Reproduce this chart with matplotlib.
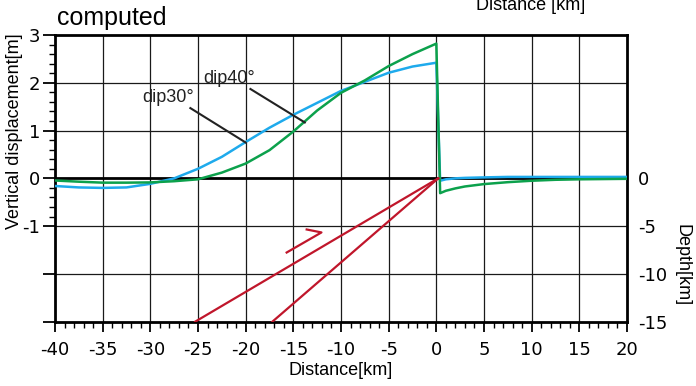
import numpy as np
import matplotlib
matplotlib.use('Agg')
import matplotlib.pyplot as plt
from matplotlib.ticker import FixedLocator

plt.rcParams['font.family'] = ['Liberation Sans', 'DejaVu Sans']

# distance [km] and vertical displacement [m]
dist = [-40, -37.5, -35, -32.5, -30, -27.5, -25, -22.5, -20, -17.5, -15, -12.5,
        -10, -7.5, -5, -2.5, 0, 0.4, 1, 2, 3, 5, 7.5, 10, 12.5, 15, 20]
dip30 = [-0.16, -0.19, -0.2, -0.19, -0.115, 0.0, 0.2, 0.45, 0.76, 1.06, 1.33, 1.58,
         1.83, 2.02, 2.21, 2.34, 2.42, -0.05, -0.02, 0.0, 0.01, 0.02, 0.03, 0.03, 0.03, 0.03, 0.03]
dip40 = [-0.045, -0.07, -0.09, -0.09, -0.085, -0.06, -0.02, 0.12, 0.31, 0.59, 0.98, 1.42,
         1.79, 2.05, 2.35, 2.6, 2.82, -0.31, -0.26, -0.21, -0.17, -0.12, -0.08, -0.05, -0.03, -0.02, -0.01]

# fault traces, depth [km]
fault30_x = [0.2, -25.3]
fault30_z = [0, -15]
fault40_x = [0.2, -17.2]
fault40_z = [0, -15]
arrow_x = [-15.7, -12.05, -13.6]
arrow_z = [-7.76, -5.66, -5.35]

xticks = [-40, -35, -30, -25, -20, -15, -10, -5, 0, 5, 10, 15, 20]
yticks = [3, 2, 1, 0, -1]
ztick_vals = [0, -5, -10, -15]

blue = '#1eaaec'
green = '#0ca14c'
red = '#c0162b'

fig = plt.figure(figsize=(6.96, 3.86), dpi=100)
ax = fig.add_axes([55 / 696, 1 - 321.7 / 386, 572 / 696, 286.7 / 386])

for xv in range(-35, 20, 5):
    ax.axvline(xv, color='0.1', lw=0.9, zorder=1)
for yv in [2, 1, -1, -2]:
    ax.axhline(yv, color='0.1', lw=0.9, zorder=1)
ax.axhline(0, color='black', lw=2.0, zorder=2)

ax.plot(dist, dip30, color=blue, lw=1.8, zorder=3)
ax.plot(dist, dip40, color=green, lw=1.8, zorder=4)

ax.plot([-25.8, -20.0], [1.47, 0.75], color='#222222', lw=1.5, zorder=5)
ax.plot([-19.5, -13.8], [1.87, 1.17], color='#222222', lw=1.5, zorder=5)
ax.text(-30.8, 1.6, 'dip30°', fontsize=13, color='#222222', va='baseline')
ax.text(-24.5, 1.99, 'dip40°', fontsize=13, color='#222222', va='baseline')

ax.set_xlim(-40, 20)
ax.set_ylim(-3, 3)
ax.set_xticks(xticks)
ax.set_xticklabels([str(v) for v in xticks], family='DejaVu Sans', fontsize=13)
ax.xaxis.set_minor_locator(FixedLocator([v for v in range(-40, 21) if v % 5 != 0]))
ax.set_yticks([3, 2, 1, 0, -1, -2, -3])
ax.set_yticklabels(['3', '2', '1', '0', '-1', '', ''], family='DejaVu Sans', fontsize=13)
ax.yaxis.set_minor_locator(FixedLocator([round(v, 1) for v in np.arange(-1, 3.01, 0.2)
                                         if abs(v - round(v)) > 0.01]))
ax.tick_params(axis='x', which='major', direction='out', length=7, width=1.3, pad=7)
ax.tick_params(axis='x', which='minor', direction='out', length=4, width=1.0)
ax.tick_params(axis='y', which='major', direction='out', length=9, width=1.3, pad=1.5)
ax.tick_params(axis='y', which='minor', direction='out', length=4, width=1.0)
for s in ax.spines.values():
    s.set_linewidth(2.0)

ax.set_xlabel('Distance[km]', fontsize=13, labelpad=2)
ax.set_ylabel('Vertical displacement[m]', fontsize=13)
ax.yaxis.set_label_coords(-0.056, 0.663)

az = ax.twinx()
az.set_ylim(-15, 15)
az.plot(fault30_x, fault30_z, color=red, lw=1.6)
az.plot(fault40_x, fault40_z, color=red, lw=1.6)
az.plot(arrow_x, arrow_z, color=red, lw=1.6)
az.set_yticks(ztick_vals)
az.set_yticklabels([str(v) for v in ztick_vals], family='DejaVu Sans', fontsize=13)
az.tick_params(axis='y', length=0, pad=8)
for s in az.spines.values():
    s.set_visible(False)
az.set_ylabel('Depth[km]', fontsize=13, rotation=270)
az.yaxis.set_label_coords(1.111, 0.198)

fig.text(57 / 696, 1 - 25 / 386, 'computed', fontsize=18, va='baseline')
fig.text(531 / 696, 1 - 10 / 386, 'Distance [km]', fontsize=13, ha='center', va='baseline')

fig.savefig('out.png', dpi=100)
